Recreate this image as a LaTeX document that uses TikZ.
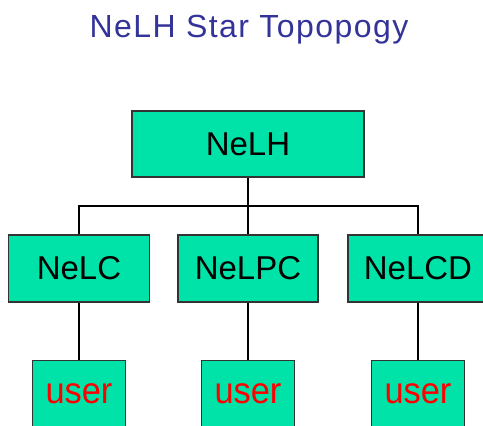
\documentclass[tikz,border=0pt]{standalone}
\usepackage{fontspec}
\setmainfont{Liberation Sans}
\definecolor{boxgreen}{HTML}{00E3A8}
\definecolor{titleblue}{HTML}{333399}
\definecolor{boxborder}{HTML}{333333}
\begin{document}
\begin{tikzpicture}[x=1pt,y=-1pt,
  box/.style={draw=boxborder, line width=1.5pt, fill=boxgreen, inner sep=0pt,
    font=\fontsize{33}{38}\selectfont},
  userbox/.style={box, minimum width=93pt, minimum height=67pt, text=red,
    font=\fontsize{37}{44}\selectfont\addfontfeature{FakeStretch=0.93}},
  link/.style={draw=black, line width=2pt}]
\useasboundingbox (0,0) rectangle (483,426);
\node[anchor=base, text=titleblue, font=\fontsize{32}{38}\selectfont\addfontfeature{LetterSpace=4.5}] (title) at (249,37) {NeLH Star Topopogy};
\node[box, minimum width=232pt, minimum height=66pt] (nelh) at (248,144) {NeLH};
\node[box, minimum width=141pt, minimum height=67pt] (nelc) at (79,268.5) {NeLC};
\node[box, minimum width=140pt, minimum height=67pt] (nelpc) at (248,268.5) {NeLPC};
\node[box, minimum width=140pt, minimum height=67pt] (nelcd) at (418,268.5) {NeLCD};
\node[userbox] (u1) at (79,394) {user};
\node[userbox] (u2) at (248,394) {user};
\node[userbox] (u3) at (418,394) {user};
\coordinate (j) at (248,206);
\draw[link] (nelh.south) -- (nelpc.north);
\draw[link] (nelc.north) -- (nelc.north |- j) -- (nelcd.north |- j) -- (nelcd.north);
\draw[link] (nelc.south) -- (u1.north);
\draw[link] (nelpc.south) -- (u2.north);
\draw[link] (nelcd.south) -- (u3.north);
\end{tikzpicture}
\end{document}
